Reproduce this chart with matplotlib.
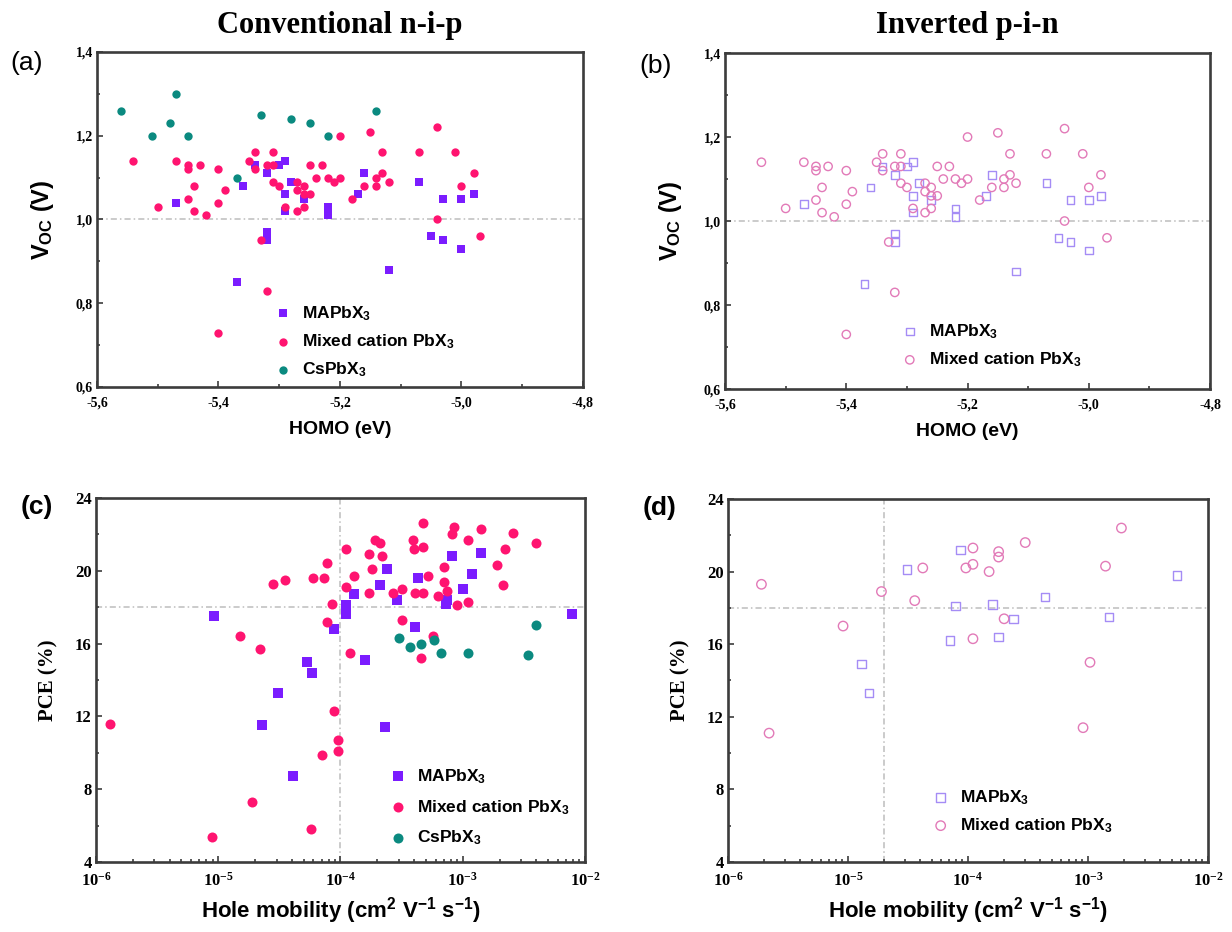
import matplotlib
matplotlib.use("Agg")
import matplotlib.pyplot as plt
from matplotlib.ticker import MultipleLocator, FuncFormatter, LogLocator, NullFormatter, FixedLocator, FixedFormatter

plt.rcParams['mathtext.fontset'] = 'custom'
plt.rcParams['mathtext.rm'] = 'Liberation Serif:bold'
plt.rcParams['mathtext.bf'] = 'Liberation Sans:bold'
plt.rcParams['mathtext.default'] = 'bf'

# (a)/(b) HOMO vs Voc
ma_homo = [-5.47, -5.36, -5.37, -5.34, -5.32, -5.32, -5.32, -5.30, -5.29, -5.29, -5.29, -5.28, -5.26,
           -5.22, -5.22, -5.17, -5.16, -5.12, -5.07, -5.05, -5.03, -5.03, -5.00, -5.00, -4.98]
ma_voc = [1.04, 1.08, 0.85, 1.13, 1.11, 0.97, 0.95, 1.13, 1.14, 1.06, 1.02, 1.09, 1.05,
          1.03, 1.01, 1.06, 1.11, 0.88, 1.09, 0.96, 1.05, 0.95, 1.05, 0.93, 1.06]

mix_homo = [-5.54, -5.47, -5.45, -5.45, -5.43, -5.40, -5.44, -5.39, -5.50, -5.45, -5.44, -5.42, -5.40,
            -5.35, -5.34, -5.34, -5.31, -5.32, -5.31, -5.31, -5.30, -5.33, -5.32, -5.40, -5.29, -5.27,
            -5.26, -5.27, -5.25, -5.23, -5.24, -5.27, -5.26, -5.25, -5.26, -5.22, -5.21, -5.20, -5.20,
            -5.18, -5.16, -5.15, -5.14, -5.14, -5.13, -5.13, -5.12, -5.07, -5.04, -5.04, -5.01, -5.00,
            -4.98, -4.97]
mix_voc = [1.14, 1.14, 1.13, 1.12, 1.13, 1.12, 1.08, 1.07, 1.03, 1.05, 1.02, 1.01, 1.04,
           1.14, 1.16, 1.12, 1.16, 1.13, 1.13, 1.09, 1.08, 0.95, 0.83, 0.73, 1.03, 1.02,
           1.03, 1.09, 1.13, 1.13, 1.10, 1.07, 1.08, 1.06, 1.06, 1.10, 1.09, 1.10, 1.20,
           1.05, 1.08, 1.21, 1.10, 1.08, 1.16, 1.11, 1.09, 1.16, 1.22, 1.00, 1.16, 1.08,
           1.11, 0.96]

cs_homo = [-5.56, -5.47, -5.51, -5.48, -5.45, -5.33, -5.28, -5.25, -5.22, -5.14, -5.37]
cs_voc = [1.26, 1.30, 1.20, 1.23, 1.20, 1.25, 1.24, 1.23, 1.20, 1.26, 1.10]

# (c) conventional: hole mobility vs PCE
c_ma_mob = [9.2e-6, 2.3e-5, 3.1e-5, 4.1e-5, 5.3e-5, 5.8e-5, 8.9e-5, 1.1e-4, 1.1e-4, 1.3e-4, 1.6e-4, 2.1e-4,
            2.4e-4, 2.3e-4, 2.9e-4, 4.1e-4, 4.3e-4, 7.5e-4, 7.3e-4, 8.1e-4, 1.0e-3, 1.2e-3, 1.4e-3, 7.8e-3]
c_ma_pce = [17.5, 11.5, 13.3, 8.7, 15.0, 14.4, 16.8, 18.1, 17.6, 18.7, 15.1, 19.2,
            20.1, 11.4, 18.4, 16.9, 19.6, 18.4, 18.2, 20.8, 19.0, 19.8, 21.0, 17.6]

c_mix_mob = [1.3e-6, 1.5e-5, 2.2e-5, 2.8e-5, 3.5e-5, 6.0e-5, 7.3e-5, 7.8e-5, 8.5e-5, 7.8e-5, 8.9e-5, 9.6e-5,
             9.6e-5, 7.0e-5, 1.1e-4, 1.1e-4, 1.3e-4, 1.2e-4, 1.7e-4, 1.7e-4, 1.8e-4, 1.9e-4, 2.1e-4, 2.2e-4,
             2.7e-4, 3.2e-4, 3.2e-4, 3.9e-4, 4.0e-4, 4.7e-4, 4.7e-4, 4.1e-4, 4.7e-4, 5.2e-4, 5.7e-4, 4.6e-4,
             6.3e-4, 7.0e-4, 7.0e-4, 7.5e-4, 8.2e-4, 8.5e-4, 9.0e-4, 1.1e-3, 1.1e-3, 1.4e-3, 1.9e-3, 2.15e-3,
             2.2e-3, 2.6e-3, 4.0e-3, 8.9e-6, 1.9e-5, 5.7e-5]
c_mix_pce = [11.6, 16.4, 15.7, 19.3, 19.5, 19.6, 19.6, 20.4, 18.2, 17.2, 12.3, 10.7,
             10.1, 9.9, 21.2, 19.1, 19.7, 15.5, 18.8, 20.9, 20.1, 21.7, 21.5, 20.8,
             18.8, 19.0, 17.3, 21.7, 21.2, 21.3, 22.6, 18.8, 18.8, 19.7, 16.4, 15.2,
             18.6, 20.2, 19.4, 18.9, 22.0, 22.4, 18.1, 21.7, 18.3, 22.3, 20.3, 19.2,
             21.2, 22.1, 21.5, 5.4, 7.3, 5.8]

c_cs_mob = [3.0e-4, 3.7e-4, 4.6e-4, 5.8e-4, 6.7e-4, 1.1e-3, 3.45e-3, 4.0e-3]
c_cs_pce = [16.3, 15.8, 16.0, 16.2, 15.5, 15.5, 15.4, 17.0]

# (d) inverted: hole mobility vs PCE
d_ma_mob = [1.3e-5, 1.5e-5, 3.1e-5, 7.1e-5, 7.9e-5, 8.7e-5, 1.6e-4, 1.8e-4, 2.4e-4, 4.4e-4, 1.5e-3, 5.5e-3]
d_ma_pce = [14.9, 13.3, 20.1, 16.2, 18.1, 21.2, 18.2, 16.4, 17.4, 18.6, 17.5, 19.8]

d_mix_mob = [1.9e-6, 2.2e-6, 9.1e-6, 1.9e-5, 3.6e-5, 4.2e-5, 9.6e-5, 1.1e-4, 1.1e-4, 1.1e-4, 1.5e-4,
             1.8e-4, 1.8e-4, 2.0e-4, 3.0e-4, 1.4e-3, 1.9e-3, 9.1e-4, 1.04e-3]
d_mix_pce = [19.3, 11.1, 17.0, 18.9, 18.4, 20.2, 20.2, 21.3, 20.4, 16.3, 20.0,
             21.1, 20.8, 17.4, 21.6, 20.3, 22.4, 11.4, 15.0]

homo_ticks = [-5.6, -5.4, -5.2, -5.0, -4.8]
voc_ticks = [0.6, 0.8, 1.0, 1.2, 1.4]
mob_ticks = [1e-6, 1e-5, 1e-4, 1e-3, 1e-2]
mob_labels = [r'$\mathrm{10^{-6}}$', r'$\mathrm{10^{-5}}$', r'$\mathrm{10^{-4}}$',
              r'$\mathrm{10^{-3}}$', r'$\mathrm{10^{-2}}$']
pce_ticks = [4, 8, 12, 16, 20, 24]

lab_ma = r'MAPbX$_3$'
lab_mix = r'Mixed cation PbX$_3$'
lab_cs = r'CsPbX$_3$'

purple = '#7b1cff'
pink = '#ff1470'
teal = '#0b8a80'
open_purple = '#a58cf5'
open_pink = '#e27ab8'
ref_gray = '#bdbdbd'
spine_col = '#3c3c3c'

fig = plt.figure(figsize=(12.32, 9.32), dpi=100)
ax_a = fig.add_axes([0.0787, 0.5848, 0.3945, 0.3594])
ax_b = fig.add_axes([0.5885, 0.5826, 0.3937, 0.3605])
ax_c = fig.add_axes([0.0779, 0.0751, 0.3969, 0.3906])
ax_d = fig.add_axes([0.5909, 0.0751, 0.3896, 0.3895])

serif_bold = dict(family='Liberation Serif', weight='bold')
sans_bold = dict(family='Liberation Sans', weight='bold')


def style_axes(ax, tick_size):
    for s in ax.spines.values():
        s.set_linewidth(1.9)
        s.set_color(spine_col)
    ax.tick_params(which='both', direction='in', top=False, right=False,
                   width=1.2, color=spine_col, pad=3)
    ax.tick_params(which='major', length=4.5)
    ax.tick_params(which='minor', length=2.5)
    ax.tick_params(axis='x', pad=7)
    for lab in ax.get_xticklabels() + ax.get_yticklabels():
        lab.set_family('Liberation Serif')
        lab.set_weight('bold')
        lab.set_size(tick_size)


comma = FuncFormatter(lambda v, p: f'{v:.1f}'.replace('.', ','))

# Panels (a) and (b)
for ax in (ax_a, ax_b):
    ax.axhline(1.0, color=ref_gray, lw=1.1, ls=(0, (4, 2, 1, 2)), zorder=0)
    ax.set_xlim(-5.6, -4.8)
    ax.set_ylim(0.6, 1.4)
    ax.xaxis.set_major_locator(FixedLocator(homo_ticks))
    ax.xaxis.set_minor_locator(MultipleLocator(0.1))
    ax.yaxis.set_major_locator(FixedLocator(voc_ticks))
    ax.yaxis.set_minor_locator(MultipleLocator(0.1))
    ax.xaxis.set_major_formatter(comma)
    ax.yaxis.set_major_formatter(comma)
    ax.set_xlabel('HOMO (eV)', fontsize=14, labelpad=8, **sans_bold)
    ax.set_ylabel(r'V$_{OC}$ (V)', fontsize=17, labelpad=14, **sans_bold)
    style_axes(ax, 10)

ax_a.scatter(ma_homo, ma_voc, marker='s', s=30, color=purple, lw=0, label=lab_ma, zorder=3)
ax_a.scatter(mix_homo, mix_voc, marker='o', s=36, color=pink, lw=0, label=lab_mix, zorder=3)
ax_a.scatter(cs_homo, cs_voc, marker='o', s=36, color=teal, lw=0, label=lab_cs, zorder=3)

ax_b.scatter(ma_homo, ma_voc, marker='s', s=30, facecolor='none', edgecolor=open_purple,
             lw=1.0, label=lab_ma, zorder=3)
ax_b.scatter(mix_homo, mix_voc, marker='o', s=36, facecolor='none', edgecolor=open_pink,
             lw=1.0, label=lab_mix, zorder=3)

# Panels (c) and (d)
for ax, vline in ((ax_c, 1e-4), (ax_d, 2e-5)):
    ax.set_xscale('log')
    ax.axhline(18, color=ref_gray, lw=1.1, ls=(0, (4, 2, 1, 2)), zorder=0)
    ax.axvline(vline, color=ref_gray, lw=1.1, ls=(0, (4, 2, 1, 2)), zorder=0)
    ax.set_xlim(1e-6, 1e-2)
    ax.set_ylim(4, 24)
    ax.xaxis.set_major_locator(FixedLocator(mob_ticks))
    ax.xaxis.set_major_formatter(FixedFormatter(mob_labels))
    ax.xaxis.set_minor_locator(LogLocator(base=10, subs=range(2, 10), numticks=20))
    ax.xaxis.set_minor_formatter(NullFormatter())
    ax.yaxis.set_major_locator(FixedLocator(pce_ticks))
    ax.yaxis.set_minor_locator(MultipleLocator(2))
    ax.set_xlabel(r'Hole mobility (cm$^2$ V$^{-1}$ s$^{-1}$)', fontsize=16, labelpad=4, **sans_bold)
    ax.set_ylabel('PCE (%)', fontsize=15, labelpad=12, **serif_bold)
    style_axes(ax, 12)
    ax.tick_params(axis='x', labelsize=12)

ax_c.scatter(c_ma_mob, c_ma_pce, marker='s', s=42, color=purple, lw=0, label=lab_ma, zorder=3)
ax_c.scatter(c_mix_mob, c_mix_pce, marker='o', s=52, color=pink, lw=0, label=lab_mix, zorder=3)
ax_c.scatter(c_cs_mob, c_cs_pce, marker='o', s=52, color=teal, lw=0, label=lab_cs, zorder=3)

ax_d.scatter(d_ma_mob, d_ma_pce, marker='s', s=38, facecolor='none', edgecolor=open_purple,
             lw=1.0, label=lab_ma, zorder=3)
ax_d.scatter(d_mix_mob, d_mix_pce, marker='o', s=46, facecolor='none', edgecolor=open_pink,
             lw=1.0, label=lab_mix, zorder=3)

# Legends
leg_kw = dict(frameon=False, loc='upper left', borderpad=0, borderaxespad=0,
              handlelength=1.0, handletextpad=0.6, scatterpoints=1,
              prop=dict(family='Liberation Sans', weight='bold', size=12.5))
ax_a.legend(bbox_to_anchor=(0.364, 0.248), labelspacing=0.55, **leg_kw)
ax_b.legend(bbox_to_anchor=(0.363, 0.199), labelspacing=0.55, **leg_kw)
ax_c.legend(bbox_to_anchor=(0.599, 0.261), labelspacing=0.7, **leg_kw)
ax_d.legend(bbox_to_anchor=(0.425, 0.204), labelspacing=0.55, **leg_kw)

# Column titles and panel letters
fig.text(0.2760, 0.973, 'Conventional n-i-p', ha='center', va='center', fontsize=22, **serif_bold)
fig.text(0.7853, 0.973, 'Inverted p-i-n', ha='center', va='center', fontsize=22, **serif_bold)
fig.text(0.022, 0.932, '(a)', ha='center', va='center', fontsize=19, family='Liberation Sans')
fig.text(0.532, 0.929, '(b)', ha='center', va='center', fontsize=19, family='Liberation Sans')
fig.text(0.030, 0.456, '(c)', ha='center', va='center', fontsize=19, **sans_bold)
fig.text(0.535, 0.455, '(d)', ha='center', va='center', fontsize=19, **sans_bold)

fig.savefig('out.png', dpi=100)
